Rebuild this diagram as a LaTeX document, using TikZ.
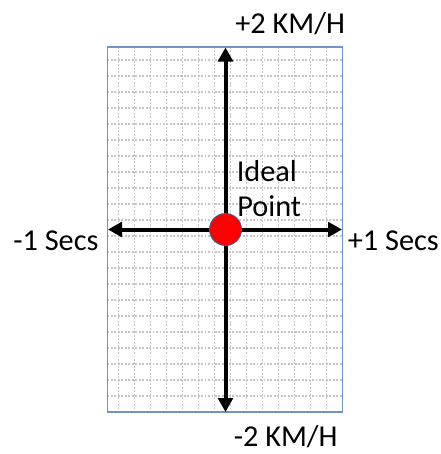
\documentclass[tikz,border=0pt]{standalone}
\usepackage{fontspec}
\setmainfont{Carlito}
\usetikzlibrary{arrows.meta}
\definecolor{framecol}{HTML}{7194C4}
\definecolor{gridcol}{HTML}{C4C4C4}
\definecolor{dotedge}{HTML}{3A5A8A}
\tikzset{
  lbl/.style={inner sep=0pt, anchor=base west, font=\fontsize{22.75pt}{27pt}\selectfont, text=black},
  gridline/.style={draw=gridcol, line width=0.9pt, dash pattern=on 1.4pt off 1.2pt},
  axis/.style={draw=black, line width=3pt, {Triangle[width=11pt,length=10.5pt]}-{Triangle[width=11pt,length=10.5pt]}},
  idealdot/.style={circle, fill=red, draw=dotedge, line width=0.6pt, minimum size=24pt, inner sep=0pt}
}
\begin{document}
\begin{tikzpicture}[x=0.75pt,y=-0.75pt]
\useasboundingbox (0,0) rectangle (441,454);
% frame background
\fill[white] (107.5,47) rectangle (342.5,412);
% grid
\begin{scope}
\clip (107.5,47) rectangle (342.5,412);
\foreach \k in {1,...,14} {\draw[gridline] ({342.5-16*\k},47) -- ({342.5-16*\k},412);}
\foreach \k in {1,...,22} {\draw[gridline] (107.5,{412-16*\k}) -- (342.5,{412-16*\k});}
\end{scope}
\draw[gridline] (107.5,412) -- (342.5,412);
\draw[framecol, line width=1.1pt] (107.5,47) rectangle (342.5,412);
% axes
\coordinate (ytop) at (225.5,47.5);
\coordinate (ybot) at (225.5,412);
\coordinate (xleft) at (108,229.5);
\coordinate (xright) at (342,229.5);
\draw[axis] (ytop) -- (ybot);
\draw[axis] (xleft) -- (xright);
\node[idealdot] (ideal) at (225.5,229.5) {};
% labels
\node[lbl] (kmhup) at (235,33) {+2 KM/H};
\node[lbl] (kmhdown) at (233.5,446.5) {-2 KM/H};
\node[lbl] (secminus) at (13,250.5) {-1 Secs};
\node[lbl] (secplus) at (347.5,250.5) {+1 Secs};
\node[lbl] (idealA) at (236.5,181.7) {Ideal};
\node[lbl] (idealB) at (237,216.7) {Point};
\end{tikzpicture}
\end{document}
